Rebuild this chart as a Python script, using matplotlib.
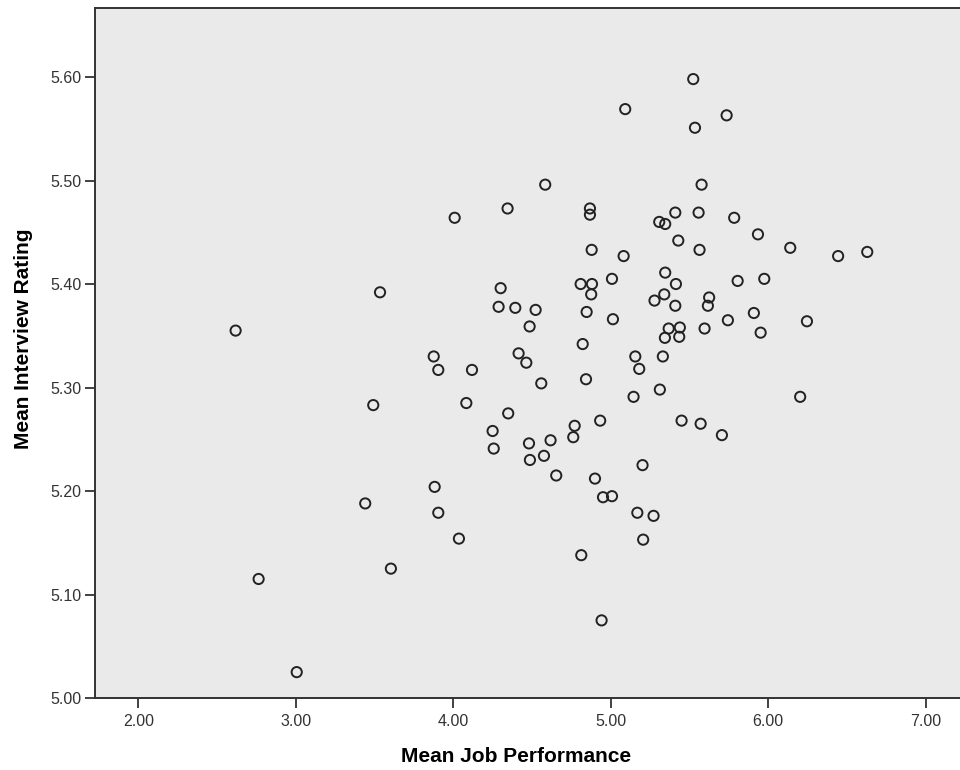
import matplotlib
matplotlib.use("Agg")
import matplotlib.pyplot as plt

# mean job performance (x) and mean interview rating (y)
job_perf = [2.618, 2.764, 3.006, 3.441, 3.492, 3.535, 3.604, 3.876, 3.882, 3.905,
            3.905, 4.009, 4.036, 4.083, 4.119, 4.250, 4.257, 4.288, 4.301, 4.345,
            4.349, 4.394, 4.415, 4.464, 4.481, 4.485, 4.487, 4.523, 4.559, 4.576,
            4.584, 4.618, 4.654, 4.762, 4.771, 4.809, 4.813, 4.822, 4.843, 4.847,
            4.868, 4.868, 4.876, 4.879, 4.881, 4.900, 4.933, 4.942, 4.951, 5.008,
            5.008, 5.014, 5.082, 5.092, 5.145, 5.156, 5.169, 5.181, 5.202, 5.206,
            5.272, 5.278, 5.308, 5.312, 5.331, 5.340, 5.344, 5.346, 5.346, 5.368,
            5.410, 5.410, 5.414, 5.429, 5.435, 5.439, 5.450, 5.524, 5.535, 5.558,
            5.564, 5.571, 5.577, 5.596, 5.617, 5.625, 5.706, 5.736, 5.744, 5.784,
            5.806, 5.909, 5.935, 5.952, 5.975, 6.140, 6.203, 6.246, 6.444, 6.629]

interview = [5.355, 5.115, 5.025, 5.188, 5.283, 5.392, 5.125, 5.330, 5.204, 5.317,
             5.179, 5.464, 5.154, 5.285, 5.317, 5.258, 5.241, 5.378, 5.396, 5.473,
             5.275, 5.377, 5.333, 5.324, 5.246, 5.359, 5.230, 5.375, 5.304, 5.234,
             5.496, 5.249, 5.215, 5.252, 5.263, 5.400, 5.138, 5.342, 5.308, 5.373,
             5.473, 5.467, 5.390, 5.433, 5.400, 5.212, 5.268, 5.075, 5.194, 5.405,
             5.195, 5.366, 5.427, 5.569, 5.291, 5.330, 5.179, 5.318, 5.225, 5.153,
             5.176, 5.384, 5.460, 5.298, 5.330, 5.390, 5.348, 5.458, 5.411, 5.357,
             5.469, 5.379, 5.400, 5.442, 5.349, 5.358, 5.268, 5.598, 5.551, 5.469,
             5.433, 5.265, 5.496, 5.357, 5.379, 5.387, 5.254, 5.563, 5.365, 5.464,
             5.403, 5.372, 5.448, 5.353, 5.405, 5.435, 5.291, 5.364, 5.427, 5.431]

x_ticks = [2.0, 3.0, 4.0, 5.0, 6.0, 7.0]
y_ticks = [5.0, 5.1, 5.2, 5.3, 5.4, 5.5, 5.6]

plt.rcParams['font.family'] = ['Liberation Sans', 'DejaVu Sans']

fig = plt.figure(figsize=(9.6, 7.7), dpi=100)
ax = fig.add_axes([95 / 960, 72 / 770, 865 / 960, 690 / 770])
ax.set_facecolor('#eaeaea')

ax.scatter(job_perf, interview, s=54, facecolors='none', edgecolors='#222222',
           linewidths=1.4, zorder=3)

ax.set_xlim(1.725, 7.218)
ax.set_ylim(5.0, 5.6667)
ax.set_xticks(x_ticks)
ax.set_xticklabels([f'{v:.2f}' for v in x_ticks])
ax.set_yticks(y_ticks)
ax.set_yticklabels([f'{v:.2f}' for v in y_ticks])

ax.tick_params(axis='both', direction='out', length=7.5, width=1.3,
               color='#333333', labelcolor='#333333', labelsize=11.5)
ax.tick_params(axis='y', pad=2)
ax.tick_params(axis='x', pad=4)

for side in ['left', 'bottom', 'top']:
    ax.spines[side].set_color('#333333')
    ax.spines[side].set_linewidth(1.4)
ax.spines['right'].set_visible(False)

fig.text(403 / 960 + 227 / 1920, 1 - 757 / 770, 'Mean Job Performance',
         ha='center', va='center', fontsize=15, fontweight='bold')
fig.text(24 / 960, 1 - 339 / 770, 'Mean Interview Rating', rotation=90,
         ha='center', va='center', fontsize=15, fontweight='bold')

fig.savefig('out.png', dpi=100)
